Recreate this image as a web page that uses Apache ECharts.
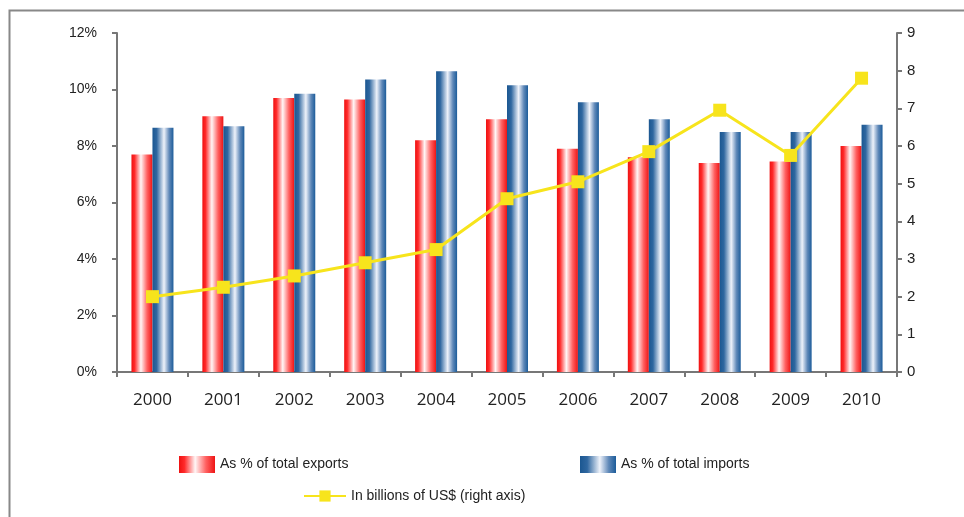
<!DOCTYPE html>
<html>
<head>
<meta charset="utf-8">
<script src="https://cdn.jsdelivr.net/npm/echarts@6/dist/echarts.min.js"></script>
<style>
  html, body { margin: 0; padding: 0; background: #fff; }
  #chart { width: 964px; height: 517px; }
</style>
</head>
<body>
<div id="chart"></div>
<script>
// values
const years = ['2000', '2001', '2002', '2003', '2004', '2005', '2006', '2007', '2008', '2009', '2010']
const exportsPct = [7.7, 9.05, 9.7, 9.65, 8.2, 8.95, 7.9, 7.6, 7.4, 7.45, 8.0]
const importsPct = [8.65, 8.7, 9.85, 10.35, 10.65, 10.15, 9.55, 8.95, 8.5, 8.5, 8.75]
const billionsUsd = [2.0, 2.25, 2.55, 2.9, 3.25, 4.6, 5.05, 5.85, 6.95, 5.75, 7.8]

const leftTicks = { min: 0, max: 12, interval: 2 }
const rightTicks = { min: 0, max: 9, interval: 1 }

const redFill = new echarts.graphic.LinearGradient(0, 0, 1, 0, [
    { offset: 0, color: '#ee1111' },
    { offset: 0.15, color: '#ff2a2a' },
    { offset: 0.45, color: '#fff6f6' },
    { offset: 0.75, color: '#ff6060' },
    { offset: 1, color: '#ee1414' }
])
const blueFill = new echarts.graphic.LinearGradient(0, 0, 1, 0, [
    { offset: 0, color: '#1b5791' },
    { offset: 0.2, color: '#2f67a0' },
    { offset: 0.55, color: '#eef2fa' },
    { offset: 0.8, color: '#5f88b8' },
    { offset: 1, color: '#1c5c9a' }
])
const yellow = '#f7e41c'
const axisGray = '#777'

let chart = echarts.init(document.getElementById('chart'))

const legendText = { fontFamily: 'Liberation Sans', fontSize: 14, color: '#222' }

chart.setOption({
    animation: false,
    backgroundColor: '#fff',
    graphic: [{
        type: 'polyline',
        shape: { points: [[9.5, 517], [9.5, 10.5], [964, 10.5]] },
        style: { stroke: '#888', lineWidth: 2, fill: null },
        silent: true
    }],
    grid: { left: 117, right: 67, top: 33, bottom: 145 },
    legend: [
        { data: [{ name: 'As % of total exports', icon: 'rect' }], left: 174, top: 451, itemWidth: 36, itemHeight: 17, itemGap: 6, textStyle: legendText },
        { data: [{ name: 'As % of total imports', icon: 'rect' }], left: 575, top: 451, itemWidth: 36, itemHeight: 17, itemGap: 6, textStyle: legendText },
        { data: ['In billions of US$ (right axis)'], left: 298, top: 484, itemWidth: 42, itemHeight: 14, textStyle: legendText }
    ],
    xAxis: {
        type: 'category',
        data: years,
        axisLine: { lineStyle: { color: axisGray, width: 2 } },
        axisTick: { show: true, length: 5, lineStyle: { color: axisGray, width: 2 } },
        axisLabel: { margin: 20, fontFamily: 'Open Sans', fontSize: 17, color: '#222' }
    },
    yAxis: [{
        type: 'value',
        min: leftTicks.min, max: leftTicks.max, interval: leftTicks.interval,
        axisLine: { show: true, lineStyle: { color: axisGray, width: 2 } },
        axisTick: { show: true, length: 5, lineStyle: { color: axisGray, width: 2 } },
        splitLine: { show: false },
        axisLabel: { formatter: '{value}%', margin: 20, fontFamily: 'Liberation Sans', fontSize: 14, color: '#222' }
    }, {
        type: 'value',
        min: rightTicks.min, max: rightTicks.max, interval: rightTicks.interval,
        axisLine: { show: true, lineStyle: { color: axisGray, width: 2 } },
        axisTick: { show: true, length: 5, lineStyle: { color: axisGray, width: 2 } },
        splitLine: { show: false },
        axisLabel: { margin: 10, fontFamily: 'Liberation Sans', fontSize: 15, color: '#222' }
    }],
    series: [{
        name: 'As % of total exports',
        type: 'bar',
        data: exportsPct,
        barWidth: 21,
        barGap: '0%',
        itemStyle: { color: redFill }
    }, {
        name: 'As % of total imports',
        type: 'bar',
        data: importsPct,
        barWidth: 21,
        barGap: '0%',
        itemStyle: { color: blueFill }
    }, {
        name: 'In billions of US$ (right axis)',
        type: 'line',
        yAxisIndex: 1,
        data: billionsUsd,
        symbol: 'rect',
        symbolSize: 13,
        z: 5,
        lineStyle: { color: yellow, width: 3 },
        itemStyle: { color: yellow }
    }]
})
</script>
</body>
</html>
